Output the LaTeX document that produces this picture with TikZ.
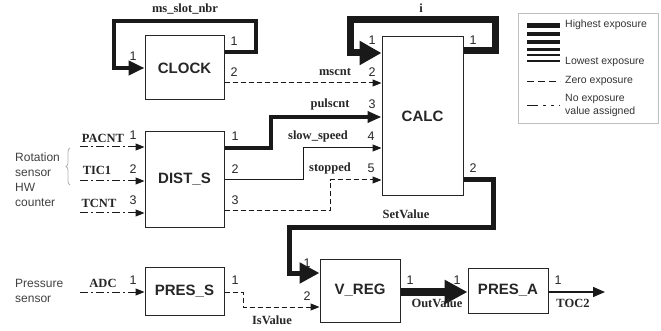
\documentclass[tikz,border=0pt]{standalone}
\usepackage{fontspec}
\setmainfont{Liberation Sans}
\newfontfamily\sigfont{Liberation Serif}
\usetikzlibrary{arrows.meta,decorations.pathreplacing}
\begin{document}
\begin{tikzpicture}[x=1pt,y=-1pt,
  blk/.style={draw=black!85,line width=1pt,inner sep=0pt,font=\fontsize{15}{18}\selectfont\bfseries,text=black!85},
  sig/.style={font=\fontsize{12.5}{14}\sigfont\bfseries, inner sep=0pt, text=black!85},
  port/.style={font=\fontsize{12.5}{14}\selectfont, inner sep=0pt, text=black!85},
  side/.style={font=\fontsize{12}{15}\selectfont, inner sep=0pt, text=black!75, anchor=west, align=left},
  leg/.style={font=\fontsize{10.5}{13}\selectfont, inner sep=0pt, text=black!80, anchor=west, align=left},
  wire/.style={draw=black!90, line join=miter},
  thinarr/.style={-{Triangle[length=9pt,width=7pt]}},
  zero/.style={dash pattern=on 5pt off 3pt},
  noval/.style={dash pattern=on 8pt off 3pt on 2pt off 3pt},
]
\useasboundingbox (0,0) rectangle (661,331);

% blocks
\node[blk, minimum width=79pt, minimum height=64pt] (clock) at (184.5,68) {CLOCK};
\node[blk, minimum width=81pt, minimum height=159pt] (calc) at (422.5,116.5) {CALC};
\node[blk, minimum width=79pt, minimum height=95pt] (dist) at (184.5,179.5) {DIST\_S};
\node[blk, minimum width=79pt, minimum height=48pt] (pres) at (184.5,291) {PRES\_S};
\node[blk, minimum width=80pt, minimum height=63pt] (vreg) at (360,290.5) {V\_REG};
\node[blk, minimum width=80pt, minimum height=45pt] (presa) at (508,290.5) {PRES\_A};

% ports
\coordinate (ck-o1) at (clock.east |- 0,52);
\coordinate (ck-o2) at (clock.east |- 0,83);
\coordinate (ck-i1) at (clock.west |- 0,68);
\coordinate (cc-i1) at (calc.west |- 0,53);
\coordinate (cc-i2) at (calc.west |- 0,83);
\coordinate (cc-i3) at (calc.west |- 0,117);
\coordinate (cc-i4) at (calc.west |- 0,148);
\coordinate (cc-i5) at (calc.west |- 0,180);
\coordinate (cc-o1) at (calc.east |- 0,51);
\coordinate (cc-o2) at (calc.east |- 0,180);
\coordinate (ds-i1) at (dist.west |- 0,147);
\coordinate (ds-i2) at (dist.west |- 0,181);
\coordinate (ds-i3) at (dist.west |- 0,213);
\coordinate (ds-o1) at (dist.east |- 0,148);
\coordinate (ds-o2) at (dist.east |- 0,180);
\coordinate (ds-o3) at (dist.east |- 0,211);
\coordinate (ps-i1) at (pres.west |- 0,292);
\coordinate (ps-o1) at (pres.east |- 0,292);
\coordinate (vr-i1) at (vreg.west |- 0,273);
\coordinate (vr-i2) at (vreg.west |- 0,307);
\coordinate (vr-o1) at (vreg.east |- 0,292);
\coordinate (pa-i1) at (presa.west |- 0,292);
\coordinate (pa-o1) at (presa.east |- 0,292);
\coordinate (pacnt) at (80,147);
\coordinate (tic1) at (80,181);
\coordinate (tcnt) at (80,213);
\coordinate (adc) at (80,292);
\coordinate (toc2) at (605,292);

% connectors
\draw[wire, line width=4pt, -{Triangle[length=16pt,width=14pt]}] (ck-o1) -- (256,52) -- (256,21) -- (114,21) -- (114,68) -- (ck-i1);
\draw[wire, line width=7pt, -{Triangle[length=22pt,width=23pt]}] (cc-o1) -- (495,51) -- (495,20) -- (350,20) -- (350,53) -- (cc-i1);
\draw[wire, line width=1pt, zero, thinarr] (ck-o2) -- (cc-i2);
\draw[wire, line width=3.5pt, -{Triangle[length=14pt,width=11pt]}] (ds-o1) -- (271,148) -- (271,117) -- (cc-i3);
\draw[wire, line width=1pt, thinarr] (ds-o2) -- (303,180) -- (303,148) -- (cc-i4);
\draw[wire, line width=1pt, zero, thinarr] (ds-o3) -- (330,211) -- (330,180) -- (cc-i5);
\draw[wire, line width=5pt, -{Triangle[length=20pt,width=20pt]}] (cc-o2) -- (493,180) -- (493,227) -- (289,227) -- (289,273) -- (vr-i1);
\draw[wire, line width=1pt, zero, thinarr] (ps-o1) -- (243,292) -- (243,307) -- (vr-i2);
\draw[wire, line width=8pt, -{Triangle[length=23pt,width=23pt]}] (vr-o1) -- (pa-i1);
\draw[wire, line width=1.5pt, -{Triangle[length=12pt,width=10pt]}] (pa-o1) -- (toc2);
\draw[wire, line width=1pt, noval, thinarr] (pacnt) -- (ds-i1);
\draw[wire, line width=1pt, noval, thinarr] (tic1) -- (ds-i2);
\draw[wire, line width=1pt, noval, thinarr] (tcnt) -- (ds-i3);
\draw[wire, line width=1pt, noval, thinarr] (adc) -- (ps-i1);

% signal labels
\node[sig] (l-msn) at (185,9) {ms\_slot\_nbr};
\node[sig] (l-i) at (421,8) {i};
\node[sig] (l-mscnt) at (335,72) {mscnt};
\node[sig] (l-puls) at (330,104) {pulscnt};
\node[sig] (l-slow) at (318,136) {slow\_speed};
\node[sig] (l-stop) at (330,168) {stopped};
\node[sig] (l-set) at (406,214) {SetValue};
\node[sig] (l-is) at (272,320) {IsValue};
\node[sig] (l-out) at (437,303) {OutValue};
\node[sig] (l-toc) at (573,303) {TOC2};
\node[sig] (l-pacnt) at (103,138) {PACNT};
\node[sig] (l-tic) at (97,170) {TIC1};
\node[sig] (l-tcnt) at (99,203) {TCNT};
\node[sig] (l-adc) at (103,283) {ADC};

% port numbers
\node[port] (p1) at (133,56) {1};
\node[port] (p2) at (234,41) {1};
\node[port] (p3) at (234,72) {2};
\node[port] (p4) at (372,40) {1};
\node[port] (p5) at (473,40) {1};
\node[port] (p6) at (372,72) {2};
\node[port] (p7) at (372,104) {3};
\node[port] (p8) at (371,136) {4};
\node[port] (p9) at (371,168) {5};
\node[port] (p10) at (473,168) {2};
\node[port] (p11) at (133,135) {1};
\node[port] (p12) at (133,169) {2};
\node[port] (p13) at (133,200) {3};
\node[port] (p14) at (235,136) {1};
\node[port] (p15) at (235,169) {2};
\node[port] (p16) at (235,200) {3};
\node[port] (p17) at (133,280) {1};
\node[port] (p18) at (235,280) {1};
\node[port] (p19) at (307,263) {1};
\node[port] (p20) at (307,296) {2};
\node[port] (p21) at (410,280) {1};
\node[port] (p22) at (457,280) {1};
\node[port] (p23) at (558,280) {1};

% side texts
\node[side] (rot) at (15,179.5) {Rotation\\sensor\\HW\\counter};
\draw[black!30, line width=0.8pt, decorate, decoration={brace, amplitude=4pt}] (70,185) -- (70,148);
\node[side] (press) at (15,290.5) {Pressure\\sensor};

% legend
\node[draw=black!25, line width=0.8pt, minimum width=140pt, minimum height=110pt, inner sep=0pt] (legend) at (588,68) {};
\draw[black!90, line width=5pt] (527,26) -- (560,26);
\draw[black!90, line width=4.5pt] (527,34) -- (560,34);
\draw[black!90, line width=4pt] (527,42) -- (560,42);
\draw[black!90, line width=3pt] (527,50) -- (560,50);
\draw[black!90, line width=2pt] (527,55.5) -- (560,55.5);
\draw[black!90, line width=1.5pt] (527,61) -- (560,61);
\draw[black!90, line width=1pt, dash pattern=on 7pt off 4pt] (527,82) -- (560,82);
\draw[black!90, line width=1pt, dash pattern=on 11pt off 5pt on 3pt off 5pt on 3pt off 5pt] (527,106) -- (560,106);
\node[leg] (lg1) at (565,25) {Highest exposure};
\node[leg] (lg2) at (565,62) {Lowest exposure};
\node[leg] (lg3) at (565,81) {Zero exposure};
\node[leg] (lg4) at (565,105.5) {No exposure\\value assigned};
\end{tikzpicture}
\end{document}
